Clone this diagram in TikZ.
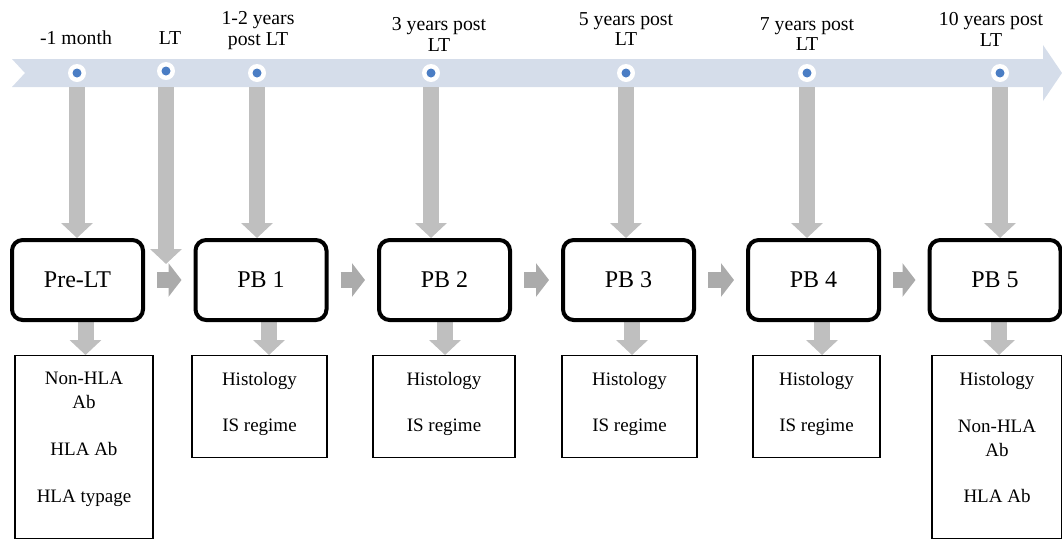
\documentclass[tikz,border=0pt]{standalone}
\usepackage{fontspec}
\setmainfont{Liberation Serif}
\usetikzlibrary{arrows.meta,backgrounds,calc}
\definecolor{bandc}{HTML}{D5DDEA}
\definecolor{dotc}{HTML}{4A7DC4}
\definecolor{arrl}{HTML}{BFBFBF}
\definecolor{arrd}{HTML}{ABABAB}
\begin{document}
\begin{tikzpicture}[x=0.75pt,y=-0.75pt,
 stage/.style={draw, line width=3pt, rounded corners=8pt, fill=white, minimum width=98.25pt, minimum height=60pt, inner sep=0pt, font=\fontsize{18}{21}\selectfont},
 subbox/.style={draw, line width=1.1pt, fill=white, inner sep=0pt, anchor=north},
 subtxt/.style={anchor=north, align=center, inner sep=0pt, font=\fontsize{14.25}{18}\selectfont},
 toplbl/.style={anchor=north, align=center, inner sep=0pt, font=\fontsize{14.8}{15.5}\selectfont},
 vdown/.style={draw=arrl, line width=12pt, -{Triangle[length=11.25pt,width=23.25pt]}},
 hright/.style={draw=arrd, line width=12pt, -{Triangle[length=9.75pt,width=24.75pt]}, shorten <=9pt, shorten >=9pt},
 dotw/.style={circle, fill=white, minimum size=13.5pt, inner sep=0pt},
 dotb/.style={circle, fill=dotc, minimum size=6.75pt, inner sep=0pt}]
\useasboundingbox (0,0) rectangle (1062,540);
% timeline band
\begin{pgfonlayer}{background}
\fill[bandc] (12,59) -- (1043,59) -- (1043,45) -- (1062,73) -- (1043,101) -- (1043,87) -- (12,87) -- (25,73) -- cycle;
\end{pgfonlayer}
\coordinate (bandbot) at (0,87);
% dots
\node[dotw] (d0) at (77,73) {};   \node[dotb] (d0i) at (d0) {};
\node[dotw] (d1) at (166,71) {};  \node[dotb] (d1i) at (d1) {};
\node[dotw] (d2) at (257,73) {};  \node[dotb] (d2i) at (d2) {};
\node[dotw] (d3) at (431,73) {};  \node[dotb] (d3i) at (d3) {};
\node[dotw] (d4) at (626,73) {};  \node[dotb] (d4i) at (d4) {};
\node[dotw] (d5) at (807,73) {};  \node[dotb] (d5i) at (d5) {};
\node[dotw] (d6) at (1000,73) {}; \node[dotb] (d6i) at (d6) {};
% top labels
\node[toplbl] (l0) at (76,31) {-1 month};
\node[toplbl] (l1) at (170,31) {LT};
\node[toplbl] (l2) at (258,11) {1-2 years\\post LT};
\node[toplbl] (l3) at (439,17) {3 years post\\LT};
\node[toplbl] (l4) at (626,12) {5 years post\\LT};
\node[toplbl] (l5) at (807,17) {7 years post\\LT};
\node[toplbl] (l6) at (991,12) {10 years post\\LT};
% stage boxes
\node[stage] (pre) at (77.5,280) {Pre-LT};
\node[stage] (pb1) at (261,280) {PB 1};
\node[stage] (pb2) at (444.5,280) {PB 2};
\node[stage] (pb3) at (628.5,280) {PB 3};
\node[stage] (pb4) at (813.5,280) {PB 4};
\node[stage] (pb5) at (995,280) {PB 5};
% sub boxes
\node[subbox, minimum width=103.5pt, minimum height=137.25pt] (s0) at (84,355) {};
\node[subbox, minimum width=101.25pt, minimum height=76.5pt] (s1) at (259.5,355) {};
\node[subbox, minimum width=106.5pt, minimum height=76.5pt] (s2) at (444,355) {};
\node[subbox, minimum width=101.25pt, minimum height=76.5pt] (s3) at (629.5,355) {};
\node[subbox, minimum width=95.25pt, minimum height=76.5pt] (s4) at (816.5,355) {};
\node[subbox, minimum width=97.5pt, minimum height=137.25pt] (s5) at (997,355) {};
\node[subtxt] (t0) at ($(s0.north)+(0,17)$) {Non-HLA\\Ab\\[17pt]HLA Ab\\[17pt]HLA typage};
\node[subtxt] (t1) at ($(s1.north)+(0,17)$) {Histology\\[16.5pt]IS regime};
\node[subtxt] (t2) at ($(s2.north)+(0,17)$) {Histology\\[16.5pt]IS regime};
\node[subtxt] (t3) at ($(s3.north)+(0,17)$) {Histology\\[16.5pt]IS regime};
\node[subtxt] (t4) at ($(s4.north)+(0,17)$) {Histology\\[16.5pt]IS regime};
\node[subtxt] (t5) at ($(s5.north)+(0,17)$) {Histology\\[17pt]Non-HLA\\Ab\\[17pt]HLA Ab};
% vertical arrows from the timeline
\coordinate (ltend) at (166,264);
\begin{pgfonlayer}{background}
\draw[vdown] (d0 |- bandbot) -- (d0 |- pre.north);
\draw[vdown] (d1 |- bandbot) -- (d1 |- ltend);
\draw[vdown] (d2 |- bandbot) -- (d2 |- pb1.north);
\draw[vdown] (d3 |- bandbot) -- (d3 |- pb2.north);
\draw[vdown] (d4 |- bandbot) -- (d4 |- pb3.north);
\draw[vdown] (d5 |- bandbot) -- (d5 |- pb4.north);
\draw[vdown] (d6 |- bandbot) -- (d6 |- pb5.north);
% arrows from stage boxes to sub boxes
\coordinate (a0) at (85.5,0);
\coordinate (a1) at (269,0);
\coordinate (a2) at (445,0);
\coordinate (a3) at (632,0);
\coordinate (a4) at (822,0);
\coordinate (a5) at (999,0);
\draw[vdown] (a0 |- pre.south) -- (a0 |- s0.north);
\draw[vdown] (a1 |- pb1.south) -- (a1 |- s1.north);
\draw[vdown] (a2 |- pb2.south) -- (a2 |- s2.north);
\draw[vdown] (a3 |- pb3.south) -- (a3 |- s3.north);
\draw[vdown] (a4 |- pb4.south) -- (a4 |- s4.north);
\draw[vdown] (a5 |- pb5.south) -- (a5 |- s5.north);
\end{pgfonlayer}
% horizontal arrows between stages
\draw[hright] (pre.east) -- (pb1.west);
\draw[hright] (pb1.east) -- (pb2.west);
\draw[hright] (pb2.east) -- (pb3.west);
\draw[hright] (pb3.east) -- (pb4.west);
\draw[hright] (pb4.east) -- (pb5.west);
\end{tikzpicture}
\end{document}
